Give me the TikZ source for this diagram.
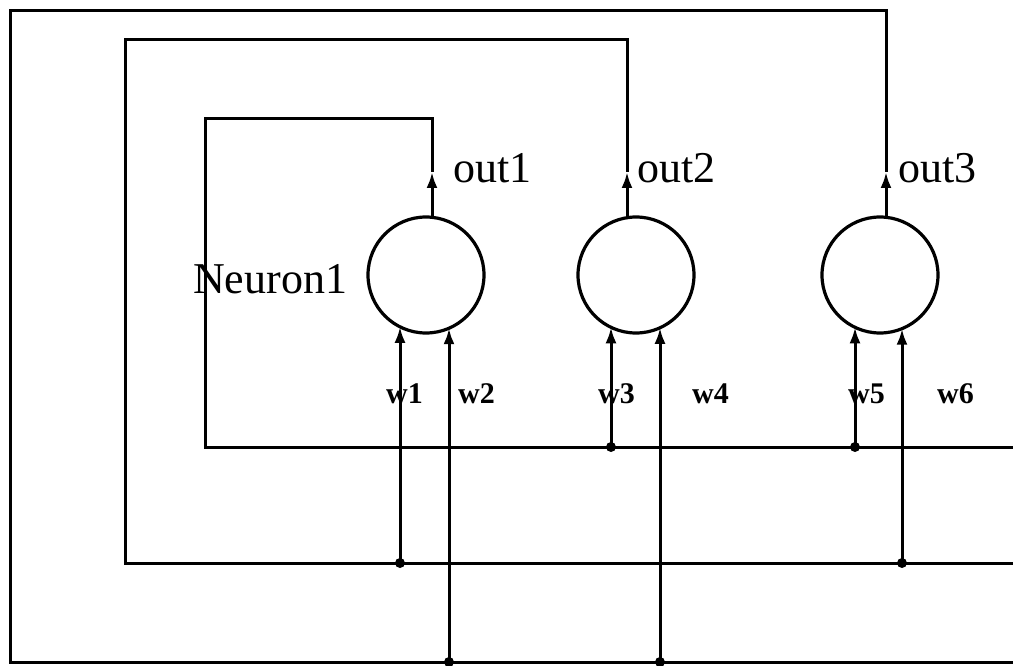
\documentclass[tikz,border=0pt]{standalone}
\usepackage{fontspec}
\setmainfont{Liberation Serif}
\usetikzlibrary{arrows.meta}
\begin{document}
\begin{tikzpicture}[x=1pt,y=-1pt,
  wire/.style={line width=3pt},
  inarrow/.style={wire,-{Latex[length=16pt,width=11pt]}},
  neuron/.style={circle,draw,line width=3.2pt,minimum size=116pt,inner sep=0pt},
  junction/.style={circle,fill,inner sep=0pt,minimum size=10pt},
  outlbl/.style={anchor=base west,inner sep=0pt,font=\fontsize{44}{48}\selectfont},
  wlbl/.style={anchor=base west,inner sep=0pt,font=\fontsize{30}{34}\selectfont\bfseries}]
\fill[white] (0,0) rectangle (1013,666);
\useasboundingbox (0,0) rectangle (1013,666);
% neurons
\node[neuron] (n1) at (426,275) {};
\node[neuron] (n2) at (636,275) {};
\node[neuron] (n3) at (880,275) {};
% output points on circle tops
\coordinate (o1) at (432,217.3);
\coordinate (o2) at (627,217.7);
\coordinate (o3) at (886,217.3);
\coordinate (a1) at (432,172);
\coordinate (a2) at (627,172);
\coordinate (a3) at (886,172);
% loop corners
\coordinate (t1r) at (432,119);
\coordinate (t1l) at (205,119);
\coordinate (b1l) at (205,447);
\coordinate (b1r) at (1013,447);
\coordinate (t2r) at (627,40);
\coordinate (t2l) at (125,40);
\coordinate (b2l) at (125,563);
\coordinate (b2r) at (1013,563);
\coordinate (t3r) at (886,11);
\coordinate (t3l) at (10,11);
\coordinate (b3l) at (10,662);
\coordinate (b3r) at (1013,662);
% outputs with arrows
\draw[inarrow] (o1) -- (a1);
\draw[inarrow] (o2) -- (a2);
\draw[inarrow] (o3) -- (a3);
% feedback loops
\draw[wire] (a1) -- (t1r) -- (t1l) -- (b1l) -- (b1r);
\draw[wire] (a2) -- (t2r) -- (t2l) -- (b2l) -- (b2r);
\draw[wire] (a3) -- (t3r) -- (t3l) -- (b3l) -- (b3r);
% input junctions
\node[junction] (j1) at (400,563) {};
\node[junction] (j2) at (449,662) {};
\node[junction] (j3) at (611,447) {};
\node[junction] (j4) at (660,662) {};
\node[junction] (j5) at (855,447) {};
\node[junction] (j6) at (902,563) {};
% input tips on circles
\coordinate (i1) at (400,326.8);
\coordinate (i2) at (449,328.2);
\coordinate (i3) at (611,327.3);
\coordinate (i4) at (660,327.8);
\coordinate (i5) at (855,327.3);
\coordinate (i6) at (902,328.7);
\draw[inarrow] (j1.center) -- (i1);
\draw[inarrow] (j2.center) -- (i2);
\draw[inarrow] (j3.center) -- (i3);
\draw[inarrow] (j4.center) -- (i4);
\draw[inarrow] (j5.center) -- (i5);
\draw[inarrow] (j6.center) -- (i6);
% labels
\node[outlbl] (l1) at (453,183) {out1};
\node[outlbl] (l2) at (637,183) {out2};
\node[outlbl] (l3) at (898,183) {out3};
\node[outlbl] (ln) at (193,293) {Neuron1};
\node[wlbl] (w1) at (386,403) {w1};
\node[wlbl] (w2) at (458,403) {w2};
\node[wlbl] (w3) at (598,403) {w3};
\node[wlbl] (w4) at (692,403) {w4};
\node[wlbl] (w5) at (848,403) {w5};
\node[wlbl] (w6) at (937,403) {w6};
\end{tikzpicture}
\end{document}
